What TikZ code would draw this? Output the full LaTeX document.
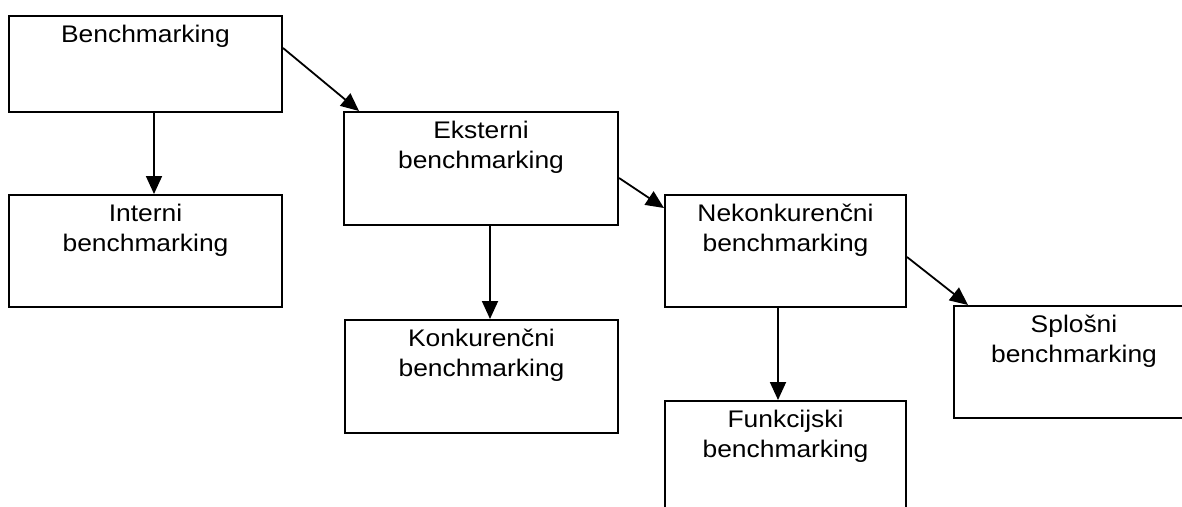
\documentclass[tikz,border=0pt]{standalone}
\usepackage{fontspec}
\setmainfont{Liberation Sans}[FakeStretch=1.1]
\usepackage{tikz}
\usetikzlibrary{arrows.meta}
\tikzset{
    block/.style={
        draw, line width = 2pt,
        inner sep = 0pt,
        anchor = north west
    },
    line/.style = {line width = 1.8pt, -{Triangle[length=18pt, width=16pt]}}
}
% text sits at the top of each block
\newcommand{\blocktext}[3]{\parbox[c][#2][t]{#1}{\fontsize{24pt}{30pt}\selectfont\centering\rule{0pt}{26pt}#3}}

\begin{document}
\begin{tikzpicture}[x=1pt, y=-1pt]

                        \path[use as bounding box, clip] (0,0) rectangle (1182,506);

                        % Blocks
                        \node[block] (bench) at (8,15) {\blocktext{273pt}{96pt}{Benchmarking}};
                        \node[block] (interni) at (8,194) {\blocktext{273pt}{112pt}{Interni\\benchmarking}};
                        \node[block] (eksterni) at (343,111) {\blocktext{274pt}{113pt}{Eksterni\\benchmarking}};
                        \node[block] (konk) at (344,319) {\blocktext{273pt}{113pt}{Konkurenčni\\benchmarking}};
                        \node[block] (nekonk) at (664,194) {\blocktext{241pt}{112pt}{Nekonkurenčni\\benchmarking}};
                        \node[block] (funk) at (664,400) {\blocktext{241pt}{112pt}{Funkcijski\\benchmarking}};
                        \node[block] (splosni) at (953,305) {\blocktext{240pt}{112pt}{Splošni\\benchmarking}};

                        % Lines
                        \draw[line] ([xshift=8.5pt]bench.south) -- ([xshift=8.5pt]bench.south |- interni.north);
                        \draw[line] ([yshift=-33pt]bench.north east) -- ([xshift=16pt]eksterni.north west);
                        \draw[line] ([xshift=9pt]eksterni.south) -- ([xshift=9pt]eksterni.south |- konk.north);
                        \draw[line] ([yshift=-67pt]eksterni.north east) -- ([yshift=-14pt]nekonk.north west);
                        \draw[line] ([xshift=-7.5pt]nekonk.south) -- ([xshift=-7.5pt]nekonk.south |- funk.north);
                        \draw[line] ([yshift=-63pt]nekonk.north east) -- ([xshift=15pt]splosni.north west);

\end{tikzpicture}
\end{document}
